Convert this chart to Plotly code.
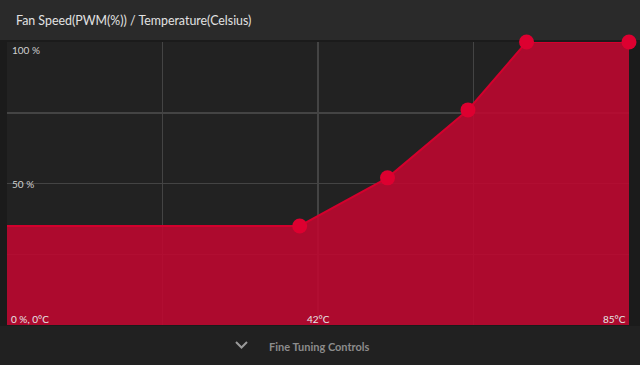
import plotly.graph_objects as go

# ---- data ----
temps = [0, 40, 52, 63, 71, 85]          # °C
pwm = [35, 35, 52, 76, 100, 100]         # fan PWM %
point_temps = [40, 52, 63, 71, 85]       # editable set points
point_pwm = [35, 52, 76, 100, 100]
y_labels = ["100 %", "50 %"]
y_label_vals = [100, 50]
x_labels = ["0 %, 0°C", "42°C", "85°C"]
title_text = "Fan Speed(PWM(%)) / Temperature(Celsius)"
footer_text = "Fine Tuning Controls"

# plot area in pixels: x 7..629, y 42..325
L, R, T, B = 7, 629, 42, 325
W, H = R - L, B - T


def px(x):
    return (x - L) / W


def py(y):
    return (B - y) / H


fig = go.Figure()
fig.add_trace(go.Scatter(
    x=temps, y=pwm, mode="lines", fill="tozeroy",
    fillcolor="rgba(192,7,48,0.88)",
    line=dict(color="#d3002d", width=2),
    hoverinfo="skip", showlegend=False,
))
fig.add_trace(go.Scatter(
    x=point_temps, y=point_pwm, mode="markers",
    marker=dict(color="#dd0030", size=15, line=dict(width=0)),
    cliponaxis=False, hoverinfo="skip", showlegend=False,
))

shapes = [
    # header
    dict(type="rect", xref="paper", yref="paper", x0=px(0), x1=px(640),
         y0=py(40), y1=py(0), fillcolor="#2a2a2a", line=dict(width=0), layer="below"),
    # footer
    dict(type="rect", xref="paper", yref="paper", x0=px(0), x1=px(640),
         y0=py(365), y1=py(326), fillcolor="#212121", line=dict(width=0), layer="below"),
    # chevron
    dict(type="path", xref="paper", yref="paper",
         path=f"M {px(236)} {py(342)} L {px(241.5)} {py(347.5)} L {px(247)} {py(342)}",
         line=dict(color="#9a9a9a", width=2)),
]

annotations = [
    dict(text=title_text, xref="paper", yref="paper", x=px(14), y=py(21),
         xanchor="left", yanchor="middle", showarrow=False,
         font=dict(family="Lato", size=12.4, color="#e2e2e2")),
    dict(text=footer_text, xref="paper", yref="paper", x=px(319.5), y=py(346),
         xanchor="center", yanchor="middle", showarrow=False,
         font=dict(family="Lato", size=11, color="#8c8c8c", weight="bold")),
]
for lab, v in zip(y_labels, y_label_vals):
    annotations.append(dict(text=lab, xref="paper", yref="y", x=px(10), y=v,
                            xanchor="left", yanchor="top" if v == 100 else "middle",
                            showarrow=False,
                            font=dict(family="Lato", size=10, color="#d0d0d0")))
annotations.append(dict(text=x_labels[0], xref="paper", yref="paper", x=px(9), y=py(319),
                        xanchor="left", yanchor="middle", showarrow=False,
                        font=dict(family="Lato", size=10, color="#e6e6e6")))
annotations.append(dict(text=x_labels[1], xref="paper", yref="paper", x=0.5, y=py(319),
                        xanchor="center", yanchor="middle", showarrow=False,
                        font=dict(family="Lato", size=10, color="#e6e6e6")))
annotations.append(dict(text=x_labels[2], xref="paper", yref="paper", x=px(628), y=py(319),
                        xanchor="right", yanchor="middle", showarrow=False,
                        font=dict(family="Lato", size=10, color="#e6e6e6")))

fig.update_layout(
    width=640, height=365,
    margin=dict(l=L, r=640 - R, t=T, b=365 - B),
    paper_bgcolor="#1b1b1b", plot_bgcolor="#222222",
    shapes=shapes, annotations=annotations,
    xaxis=dict(range=[0, 85], tickvals=[21.25, 42.5, 63.75], showticklabels=False,
               showgrid=True, gridcolor="#444444", gridwidth=1.5, zeroline=False,
               fixedrange=True, showline=False),
    yaxis=dict(range=[0, 100], tickvals=[25, 50, 75], showticklabels=False,
               showgrid=True, gridcolor="#444444", gridwidth=1.5, zeroline=False,
               fixedrange=True, showline=False),
    hovermode=False,
)

fig.write_html("out.html", config=dict(displayModeBar=False, staticPlot=True))
